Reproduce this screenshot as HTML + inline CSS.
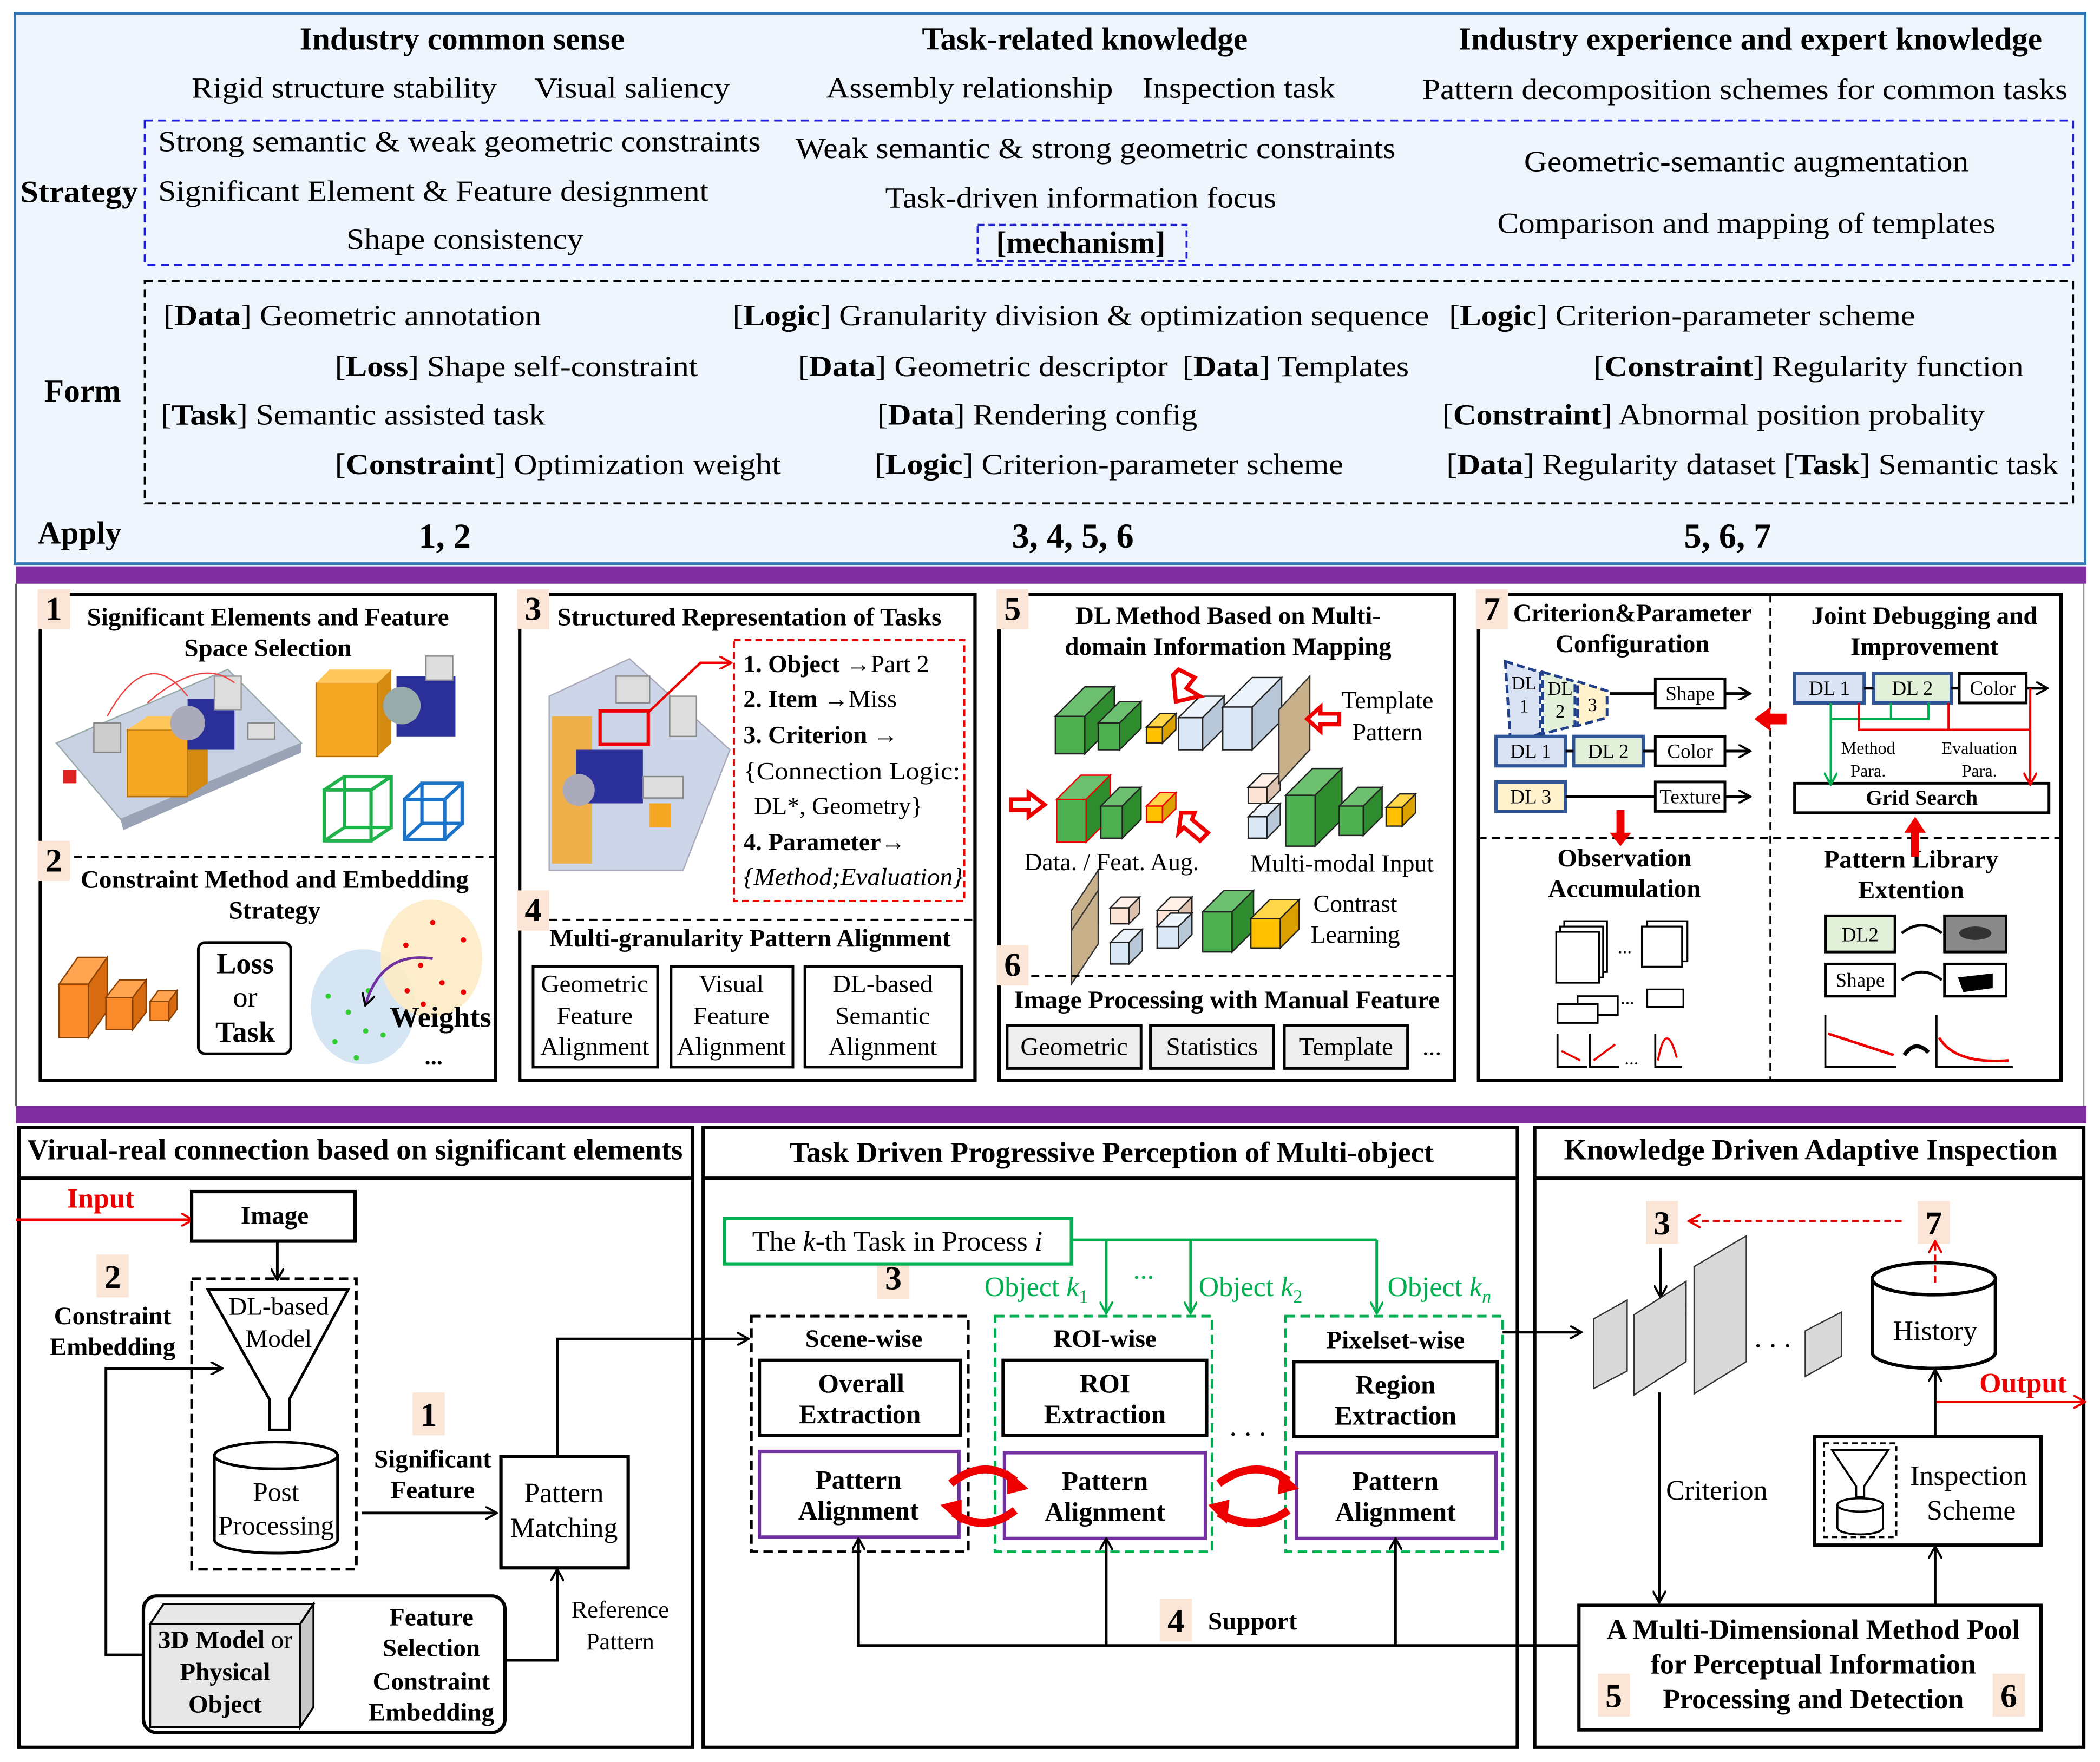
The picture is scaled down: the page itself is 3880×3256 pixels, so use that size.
<!DOCTYPE html>
<html><head><meta charset="utf-8"><style>
html,body{margin:0;padding:0;background:#fff}
svg{display:block}
text{font-family:"Liberation Serif",serif;fill:#000}
.b{font-weight:bold}
.m{text-anchor:middle}
</style></head><body>
<svg xmlns="http://www.w3.org/2000/svg" width="3880" height="3256" viewBox="0 0 1568 1316">
<defs>
<marker id="ak" markerWidth="10" markerHeight="10" refX="8" refY="5" orient="auto" markerUnits="userSpaceOnUse"><path d="M0,0 L9,5 L0,10" fill="none" stroke="#000" stroke-width="1.6"/></marker>
<marker id="ar" markerWidth="10" markerHeight="10" refX="8" refY="5" orient="auto" markerUnits="userSpaceOnUse"><path d="M0,0 L9,5 L0,10" fill="none" stroke="#e00" stroke-width="1.6"/></marker>
<marker id="ag" markerWidth="10" markerHeight="10" refX="8" refY="5" orient="auto" markerUnits="userSpaceOnUse"><path d="M0,0 L9,5 L0,10" fill="none" stroke="#00b050" stroke-width="1.6"/></marker>
</defs>
<rect width="1568" height="1316" fill="#fff"/>
<!-- TOP PANEL -->
<rect x="11" y="10" width="1546" height="411" fill="#eef5fc" stroke="#2e75b6" stroke-width="2"/>
<g font-size="22">
<text class="b m" x="345" y="37" font-size="24">Industry common sense</text>
<text class="b m" x="810" y="37" font-size="24">Task-related knowledge</text>
<text class="b m" x="1307" y="37" font-size="24">Industry experience and expert knowledge</text>
<text class="m" x="257" y="73" textLength="228" lengthAdjust="spacingAndGlyphs">Rigid structure stability</text>
<text class="m" x="472" y="73" textLength="146" lengthAdjust="spacingAndGlyphs">Visual saliency</text>
<text class="m" x="724" y="73" textLength="214" lengthAdjust="spacingAndGlyphs">Assembly relationship</text>
<text class="m" x="925" y="73" textLength="144" lengthAdjust="spacingAndGlyphs">Inspection task</text>
<text class="m" x="1303" y="74" textLength="482" lengthAdjust="spacingAndGlyphs">Pattern decomposition schemes for common tasks</text>
</g>
<rect x="108" y="90" width="1440" height="108" fill="none" stroke="#1f1fe0" stroke-width="1.5" stroke-dasharray="6,4"/>
<text class="b" x="15" y="151" font-size="23" textLength="88" lengthAdjust="spacingAndGlyphs">Strategy</text>
<g font-size="22">
<text x="118" y="113" textLength="450" lengthAdjust="spacingAndGlyphs">Strong semantic &amp; weak geometric constraints</text>
<text x="118" y="150" textLength="411" lengthAdjust="spacingAndGlyphs">Significant Element &amp; Feature designment</text>
<text class="m" x="347" y="186" textLength="177" lengthAdjust="spacingAndGlyphs">Shape consistency</text>
<text class="m" x="818" y="118" textLength="448" lengthAdjust="spacingAndGlyphs">Weak semantic &amp; strong geometric constraints</text>
<text class="m" x="807" y="155" textLength="292" lengthAdjust="spacingAndGlyphs">Task-driven information focus</text>
<text class="m b" x="807" y="189" font-size="23">[mechanism]</text>
<text class="m" x="1304" y="128" textLength="332" lengthAdjust="spacingAndGlyphs">Geometric-semantic augmentation</text>
<text class="m" x="1304" y="174" textLength="372" lengthAdjust="spacingAndGlyphs">Comparison and mapping of templates</text>
</g>
<rect x="730" y="168" width="156" height="27" fill="none" stroke="#1f1fe0" stroke-width="1.5" stroke-dasharray="5,3"/>
<rect x="108" y="210" width="1440" height="166" fill="none" stroke="#000" stroke-width="1.5" stroke-dasharray="6,4"/>
<text class="b" x="33" y="300" font-size="24">Form</text>
<g font-size="22">
<text x="122" y="243" textLength="282" lengthAdjust="spacingAndGlyphs">[<tspan class="b">Data</tspan>] Geometric annotation</text>
<text x="547" y="243" textLength="520" lengthAdjust="spacingAndGlyphs">[<tspan class="b">Logic</tspan>] Granularity division &amp; optimization sequence</text>
<text x="1082" y="243" textLength="348" lengthAdjust="spacingAndGlyphs">[<tspan class="b">Logic</tspan>] Criterion-parameter scheme</text>
<text x="250" y="281" textLength="271" lengthAdjust="spacingAndGlyphs">[<tspan class="b">Loss</tspan>] Shape self-constraint</text>
<text x="596" y="281" textLength="276" lengthAdjust="spacingAndGlyphs">[<tspan class="b">Data</tspan>] Geometric descriptor</text>
<text x="883" y="281" textLength="169" lengthAdjust="spacingAndGlyphs">[<tspan class="b">Data</tspan>] Templates</text>
<text x="1190" y="281" textLength="321" lengthAdjust="spacingAndGlyphs">[<tspan class="b">Constraint</tspan>] Regularity function</text>
<text x="120" y="317" textLength="287" lengthAdjust="spacingAndGlyphs">[<tspan class="b">Task</tspan>] Semantic assisted task</text>
<text x="655" y="317" textLength="239" lengthAdjust="spacingAndGlyphs">[<tspan class="b">Data</tspan>] Rendering config</text>
<text x="1077" y="317" textLength="405" lengthAdjust="spacingAndGlyphs">[<tspan class="b">Constraint</tspan>] Abnormal position probality</text>
<text x="250" y="354" textLength="333" lengthAdjust="spacingAndGlyphs">[<tspan class="b">Constraint</tspan>] Optimization weight</text>
<text x="653" y="354" textLength="350" lengthAdjust="spacingAndGlyphs">[<tspan class="b">Logic</tspan>] Criterion-parameter scheme</text>
<text x="1080" y="354" textLength="457" lengthAdjust="spacingAndGlyphs">[<tspan class="b">Data</tspan>] Regularity dataset [<tspan class="b">Task</tspan>] Semantic task</text>
</g>
<g font-size="26" class="b">
<text class="b" x="28" y="406" font-size="24">Apply</text>
<text class="b m" x="332" y="409">1, 2</text>
<text class="b m" x="801" y="409">3, 4, 5, 6</text>
<text class="b m" x="1290" y="409">5, 6, 7</text>
</g>
<!-- purple bands -->
<rect x="12" y="423" width="1546" height="13" fill="#7f2ea0"/>
<rect x="12" y="826" width="1546" height="13" fill="#7f2ea0"/>
<line x1="12" y1="436" x2="12" y2="826" stroke="#555" stroke-width="1.5"/>
<line x1="1556" y1="436" x2="1556" y2="826" stroke="#999" stroke-width="1"/>

<!-- MIDDLE PANEL -->
<g fill="none" stroke="#000" stroke-width="2.5">
<rect x="30" y="444" width="340" height="363"/>
<rect x="388" y="444" width="340" height="363"/>
<rect x="746" y="444" width="340" height="363"/>
<rect x="1104" y="444" width="435" height="363"/>
</g>
<g fill="#fbe5d6">
<rect x="28" y="440" width="24" height="30"/><rect x="28" y="628" width="24" height="30"/>
<rect x="386" y="440" width="24" height="30"/><rect x="386" y="665" width="24" height="30"/>
<rect x="744" y="440" width="24" height="30"/><rect x="744" y="706" width="24" height="30"/>
<rect x="1102" y="440" width="24" height="30"/>
</g>
<g font-size="25" class="b">
<text class="b m" x="40" y="463">1</text><text class="b m" x="40" y="651">2</text>
<text class="b m" x="398" y="463">3</text><text class="b m" x="398" y="688">4</text>
<text class="b m" x="756" y="463">5</text><text class="b m" x="756" y="729">6</text>
<text class="b m" x="1114" y="463">7</text>
</g>
<!-- box1 -->
<g font-size="19">
<text class="b m" x="200" y="467">Significant Elements and Feature</text>
<text class="b m" x="200" y="490">Space Selection</text>
<text class="b m" x="205" y="663">Constraint Method and Embedding</text>
<text class="b m" x="205" y="686">Strategy</text>
</g>
<line x1="55" y1="640" x2="370" y2="640" stroke="#000" stroke-width="1.5" stroke-dasharray="6,4"/>
<!-- machine image 1 -->
<polygon points="42,555 170,500 225,555 90,612" fill="#c9d2e3" stroke="#9aa" />
<polygon points="90,612 225,555 225,562 92,620" fill="#9aa3b5"/>
<rect x="95" y="545" width="45" height="50" fill="#f5a623" stroke="#b07010"/>
<polygon points="95,545 110,535 155,535 140,545" fill="#ffc65a"/>
<polygon points="140,545 155,535 155,585 140,595" fill="#d48a10"/>
<rect x="140" y="522" width="35" height="38" fill="#2b2f9a"/>
<circle cx="140" cy="540" r="13" fill="#aab"/>
<rect x="160" y="505" width="20" height="25" fill="#ddd" stroke="#999"/>
<rect x="70" y="540" width="20" height="22" fill="#ccc" stroke="#888"/>
<rect x="185" y="540" width="20" height="12" fill="#ddd" stroke="#888"/>
<rect x="47" y="575" width="10" height="10" fill="#d22"/>
<path d="M80,535 Q110,480 140,520 M110,525 Q150,490 175,510" fill="none" stroke="#e44" stroke-width="1"/>
<rect x="236" y="510" width="46" height="55" fill="#f5a623" stroke="#b07010"/>
<polygon points="236,510 246,500 292,500 282,510" fill="#ffc65a"/>
<polygon points="282,510 292,500 292,555 282,565" fill="#d48a10"/>
<rect x="296" y="505" width="44" height="45" fill="#2b2f9a"/>
<circle cx="300" cy="527" r="14" fill="#9aa"/>
<rect x="318" y="490" width="20" height="18" fill="#ddd" stroke="#888"/>
<g fill="none" stroke="#21b34b" stroke-width="2.5"><rect x="242" y="590" width="35" height="38"/><rect x="257" y="580" width="35" height="38"/><line x1="242" y1="590" x2="257" y2="580"/><line x1="277" y1="590" x2="292" y2="580"/><line x1="242" y1="628" x2="257" y2="618"/><line x1="277" y1="628" x2="292" y2="618"/></g>
<g fill="none" stroke="#1a73c8" stroke-width="2.5"><rect x="302" y="597" width="30" height="30"/><rect x="315" y="585" width="30" height="30"/><line x1="302" y1="597" x2="315" y2="585"/><line x1="332" y1="597" x2="345" y2="585"/><line x1="302" y1="627" x2="315" y2="615"/><line x1="332" y1="627" x2="345" y2="615"/></g>
<!-- orange blocks -->
<g stroke="#8a4000" stroke-width="1">
<rect x="44" y="735" width="22" height="40" fill="#fa8a2a"/><polygon points="44,735 58,715 80,715 66,735" fill="#ffa552"/><polygon points="66,735 80,715 80,755 66,775" fill="#d86a10"/>
<rect x="79" y="745" width="20" height="24" fill="#fa8a2a"/><polygon points="79,745 89,732 109,732 99,745" fill="#ffa552"/><polygon points="99,745 109,732 109,756 99,769" fill="#d86a10"/>
<rect x="112" y="748" width="14" height="14" fill="#fa8a2a"/><polygon points="112,748 118,740 132,740 126,748" fill="#ffa552"/><polygon points="126,748 132,740 132,754 126,762" fill="#d86a10"/>
</g>
<rect x="148" y="704" width="69" height="83" rx="5" fill="#fff" stroke="#000" stroke-width="2"/>
<g font-size="22"><text class="b m" x="183" y="727">Loss</text><text class="m" x="183" y="752">or</text><text class="b m" x="183" y="778">Task</text></g>
<ellipse cx="271" cy="752" rx="39" ry="43" fill="#cfe0f1" opacity="0.85"/>
<ellipse cx="322" cy="716" rx="38" ry="44" fill="#fdebc4" opacity="0.9"/>
<g fill="#e00"><circle cx="323" cy="689" r="2"/><circle cx="303" cy="706" r="2"/><circle cx="346" cy="702" r="2"/><circle cx="314" cy="721" r="2"/><circle cx="330" cy="734" r="2"/><circle cx="304" cy="740" r="2"/><circle cx="346" cy="741" r="2"/><circle cx="316" cy="750" r="2"/></g>
<g fill="#3c3"><circle cx="245" cy="744" r="2"/><circle cx="260" cy="756" r="2"/><circle cx="275" cy="740" r="2"/><circle cx="273" cy="770" r="2"/><circle cx="250" cy="778" r="2"/><circle cx="286" cy="773" r="2"/><circle cx="266" cy="790" r="2"/></g>
<path d="M323,716 Q285,710 273,750" fill="none" stroke="#7030a0" stroke-width="2" marker-end="url(#ak)"/>
<text class="b" x="291" y="767" font-size="22">Weights</text>
<text class="b" x="317" y="795" font-size="18">...</text>
<!-- box3 -->
<text class="b" x="416" y="467" font-size="19">Structured Representation of Tasks</text>
<polygon points="410,520 470,492 545,560 510,650 410,650" fill="#ccd6e8" stroke="#aab"/>
<rect x="412" y="535" width="30" height="110" fill="#f5a623" opacity="0.8"/>
<rect x="430" y="560" width="50" height="40" fill="#2b2f9a"/>
<circle cx="432" cy="590" r="12" fill="#aab"/>
<rect x="480" y="580" width="30" height="16" fill="#ddd" stroke="#888"/>
<rect x="485" y="600" width="16" height="18" fill="#f5a623"/>
<rect x="460" y="505" width="25" height="20" fill="#ddd" stroke="#888"/>
<rect x="500" y="520" width="20" height="30" fill="#ddd" stroke="#888"/>
<rect x="448" y="531" width="36" height="25" fill="none" stroke="#e00" stroke-width="2.5"/>
<polyline points="484,532 523,495 545,495" fill="none" stroke="#e00" stroke-width="1.8" marker-end="url(#ar)"/>
<rect x="548" y="478" width="172" height="195" fill="none" stroke="#e00" stroke-width="1.5" stroke-dasharray="5,3"/>
<g font-size="18.5">
<text x="555" y="502"><tspan class="b">1. Object</tspan>  →Part 2</text>
<text x="555" y="528"><tspan class="b">2. Item</tspan>      →Miss</text>
<text x="555" y="555"><tspan class="b">3. Criterion</tspan> →</text>
<text x="555" y="582" textLength="162" lengthAdjust="spacingAndGlyphs">{Connection Logic:</text>
<text x="563" y="608">DL*, Geometry}</text>
<text x="555" y="635"><tspan class="b">4. Parameter</tspan>→</text>
<text x="555" y="661" font-style="italic" textLength="164" lengthAdjust="spacingAndGlyphs">{Method;Evaluation}</text>
</g>
<line x1="410" y1="687" x2="728" y2="687" stroke="#000" stroke-width="1.5" stroke-dasharray="6,4"/>
<text class="b m" x="560" y="707" font-size="19">Multi-granularity Pattern Alignment</text>
<g fill="none" stroke="#000" stroke-width="2"><rect x="398" y="722" width="93" height="75"/><rect x="501" y="722" width="91" height="75"/><rect x="601" y="722" width="117" height="75"/></g>
<g font-size="19" class="m">
<text class="m" x="444" y="741">Geometric</text><text class="m" x="444" y="765">Feature</text><text class="m" x="444" y="788">Alignment</text>
<text class="m" x="546" y="741">Visual</text><text class="m" x="546" y="765">Feature</text><text class="m" x="546" y="788">Alignment</text>
<text class="m" x="659" y="741">DL-based</text><text class="m" x="659" y="765">Semantic</text><text class="m" x="659" y="788">Alignment</text>
</g>
<!-- box5 -->
<text class="b m" x="917" y="466" font-size="19">DL Method Based on Multi-</text>
<text class="b m" x="917" y="489" font-size="19">domain Information Mapping</text>
<g id="cubes" stroke="#222" stroke-width="1"></g>
<polygon points="955,530 978,505 978,560 955,585" fill="#c8b08a" stroke="#333"/>
<polygon points="800,680 820,650 820,690 800,720" fill="#c8b08a" stroke="#333"/>
<polygon points="800,725 820,695 820,735 800,765" fill="#c8b08a" stroke="#333" transform="translate(0,-30)"/>
<g fill="#fff" stroke="#e00" stroke-width="3">
<polygon points="880,500 892,506 886,514 896,520 878,524 876,504"/>
<polygon points="1000,533 1000,541 986,541 986,546 976,537 986,528 986,533"/>
<polygon points="755,597 768,597 768,592 780,601 768,610 768,605 755,605"/>
<polygon points="882,607 892,607 890,612 902,622 896,628 884,618 880,622"/>
</g>
<g font-size="18.5">
<text class="m" x="1036" y="529">Template</text><text class="m" x="1036" y="553">Pattern</text>
<text class="m" x="830" y="650">Data. / Feat. Aug.</text>
<text class="m" x="1002" y="651">Multi-modal Input</text>
<text class="m" x="1012" y="681">Contrast</text><text class="m" x="1012" y="704">Learning</text>
</g>
<line x1="770" y1="729" x2="1086" y2="729" stroke="#000" stroke-width="1.5" stroke-dasharray="6,4"/>
<text class="b m" x="916" y="753" font-size="19">Image Processing with Manual Feature</text>
<g fill="#eee" stroke="#000" stroke-width="2"><rect x="752" y="766" width="100" height="32"/><rect x="859" y="766" width="92" height="32"/><rect x="959" y="766" width="92" height="32"/></g>
<g font-size="19"><text class="m" x="802" y="788">Geometric</text><text class="m" x="905" y="788">Statistics</text><text class="m" x="1005" y="788">Template</text><text x="1062" y="788">...</text></g>
<!-- box7 -->
<line x1="1322" y1="444" x2="1322" y2="807" stroke="#000" stroke-width="1.5" stroke-dasharray="6,4"/>
<line x1="1104" y1="626" x2="1539" y2="626" stroke="#000" stroke-width="1.5" stroke-dasharray="6,4"/>
<g font-size="19">
<text class="b m" x="1219" y="464">Criterion&amp;Parameter</text><text class="b m" x="1219" y="487">Configuration</text>
<text class="b m" x="1437" y="466">Joint Debugging and</text><text class="b m" x="1437" y="489">Improvement</text>
<text class="b m" x="1213" y="647">Observation</text><text class="b m" x="1213" y="670">Accumulation</text>
<text class="b m" x="1427" y="648">Pattern Library</text><text class="b m" x="1427" y="671">Extention</text>
</g>
<g stroke="#1f3f8a" stroke-width="2" stroke-dasharray="6,3">
<polygon points="1124,494 1150,502 1150,548 1128,556" fill="#dae3f3"/>
<polygon points="1152,502 1176,509 1176,542 1152,548" fill="#e2f0d9"/>
<polygon points="1178,509 1200,516 1200,536 1178,542" fill="#fff2cc"/>
</g>
<g font-size="14"><text class="m" x="1138" y="515">DL</text><text class="m" x="1138" y="532">1</text><text class="m" x="1165" y="519">DL</text><text class="m" x="1165" y="536">2</text><text class="m" x="1189" y="531">3</text></g>
<line x1="1202" y1="518" x2="1236" y2="518" stroke="#000" stroke-width="2"/>
<g fill="#fff" stroke="#000" stroke-width="2">
<rect x="1236" y="507" width="52" height="22"/><rect x="1236" y="550" width="52" height="22"/><rect x="1236" y="584" width="52" height="22"/>
<rect x="1463" y="503" width="50" height="22"/><rect x="1340" y="585" width="190" height="22"/>
<rect x="1363" y="720" width="52" height="24"/>
</g>
<g stroke="#2f5597" stroke-width="2.5">
<rect x="1117" y="550" width="52" height="22" fill="#dae3f3"/><rect x="1175" y="550" width="52" height="22" fill="#e2f0d9"/>
<rect x="1117" y="584" width="52" height="22" fill="#fff2cc"/>
<rect x="1340" y="503" width="52" height="22" fill="#dae3f3"/><rect x="1399" y="503" width="58" height="22" fill="#e2f0d9"/>
</g>
<rect x="1363" y="684" width="52" height="27" fill="#e2f0d9" stroke="#000" stroke-width="2"/>
<g stroke="#000" stroke-width="2" fill="none">
<line x1="1169" y1="561" x2="1175" y2="561"/><line x1="1227" y1="561" x2="1236" y2="561"/>
<line x1="1169" y1="595" x2="1236" y2="595"/><line x1="1392" y1="514" x2="1399" y2="514"/><line x1="1457" y1="514" x2="1463" y2="514"/>
<line x1="1288" y1="518" x2="1306" y2="518" marker-end="url(#ak)"/>
<line x1="1288" y1="561" x2="1306" y2="561" marker-end="url(#ak)"/>
<line x1="1288" y1="595" x2="1306" y2="595" marker-end="url(#ak)"/>
<line x1="1513" y1="514" x2="1528" y2="514" marker-end="url(#ak)"/>
</g>
<g font-size="15">
<text class="m" x="1262" y="523">Shape</text><text class="m" x="1262" y="566">Color</text><text class="m" x="1262" y="600">Texture</text>
<text class="m" x="1143" y="566">DL 1</text><text class="m" x="1201" y="566">DL 2</text><text class="m" x="1143" y="600">DL 3</text>
<text class="m" x="1366" y="519">DL 1</text><text class="m" x="1428" y="519">DL 2</text><text class="m" x="1488" y="519">Color</text>
<text class="m" x="1389" y="703">DL2</text><text class="m" x="1389" y="737">Shape</text>
</g>
<text class="b m" x="1435" y="601" font-size="16">Grid Search</text>
<g font-size="13"><text class="m" x="1395" y="563">Method</text><text class="m" x="1395" y="580">Para.</text><text class="m" x="1478" y="563">Evaluation</text><text class="m" x="1478" y="580">Para.</text></g>
<g fill="none" stroke-width="1.6">
<path d="M1367,525 V585" stroke="#00b050" marker-end="url(#ag)"/>
<path d="M1367,537 H1440 V525 M1412,537 V525" stroke="#00b050"/>
<path d="M1388,525 V545 H1516 M1455,545 V525 M1516,514 V585" stroke="#e00"/>
<path d="M1516,545 V585" stroke="#e00" marker-end="url(#ar)"/>
</g>
<g fill="#e00">
<polygon points="1334,533 1322,533 1322,528 1310,537 1322,546 1322,541 1334,541"/>
<polygon points="1207,605 1213,605 1213,622 1218,622 1210,632 1202,622 1207,622"/>
<polygon points="1427,640 1433,640 1433,622 1438,622 1430,610 1422,622 1427,622"/>
</g>
<rect x="1452" y="684" width="46" height="27" fill="#8a8a8a" stroke="#000" stroke-width="2"/>
<ellipse cx="1475" cy="697" rx="12" ry="5" fill="#333"/>
<rect x="1452" y="720" width="46" height="24" fill="#fff" stroke="#000" stroke-width="2"/>
<polygon points="1462,730 1488,727 1488,738 1466,741" fill="#000"/>
<path d="M1450,697 Q1435,685 1420,697 M1450,732 Q1435,720 1420,732" fill="none" stroke="#000" stroke-width="2"/>
<!-- observation icons -->
<g fill="#fff" stroke="#000" stroke-width="1.3">
<rect x="1168" y="688" width="32" height="38"/><rect x="1165" y="692" width="32" height="38"/><rect x="1162" y="696" width="32" height="38"/>
<rect x="1230" y="688" width="30" height="30"/><rect x="1226" y="692" width="30" height="30"/>
<rect x="1178" y="744" width="30" height="14"/><rect x="1163" y="750" width="30" height="14"/><rect x="1230" y="739" width="27" height="13"/>
</g>
<g font-size="14"><text x="1208" y="712">...</text><text x="1210" y="750">...</text><text x="1213" y="795">...</text></g>
<g fill="none" stroke="#000" stroke-width="1.5">
<path d="M1163,772 V797 H1185 M1187,772 V797 H1209 M1236,772 V797 H1256"/>
</g>
<g fill="none" stroke="#e00" stroke-width="1.5"><path d="M1166,785 L1180,792 M1190,792 L1206,780 M1238,792 Q1244,760 1252,790"/></g>
<g fill="none" stroke="#000" stroke-width="1.5"><path d="M1363,758 V797 H1416 M1446,758 V797 H1503"/></g>
<g fill="none" stroke="#e00" stroke-width="2"><path d="M1365,772 L1414,788 M1448,775 Q1460,795 1500,792"/></g>
<path d="M1422,788 Q1430,776 1440,786" fill="none" stroke="#000" stroke-width="3"/>

<!-- BOTTOM PANEL -->
<g fill="none" stroke="#000" stroke-width="2.5">
<rect x="14" y="842" width="503" height="463"/><line x1="14" y1="880" x2="517" y2="880"/>
<rect x="525" y="842" width="608" height="463"/><line x1="525" y1="880" x2="1133" y2="880"/>
<rect x="1146" y="842" width="410" height="463"/><line x1="1146" y1="880" x2="1556" y2="880"/>
</g>
<g font-size="22">
<text class="b m" x="265" y="866">Virual-real connection based on significant elements</text>
<text class="b m" x="830" y="868">Task Driven Progressive Perception of Multi-object</text>
<text class="b m" x="1352" y="866">Knowledge Driven Adaptive Inspection</text>
</g>
<g fill="#fbe5d6">
<rect x="72" y="937" width="24" height="32"/><rect x="308" y="1040" width="24" height="32"/>
<rect x="244" y="1200" width="24" height="32"/><rect x="244" y="1254" width="24" height="32"/>
<rect x="655" y="938" width="24" height="32"/><rect x="866" y="1194" width="24" height="32"/>
<rect x="1229" y="897" width="24" height="32"/><rect x="1432" y="897" width="24" height="32"/>
<rect x="1193" y="1250" width="24" height="32"/><rect x="1488" y="1250" width="24" height="32"/>
</g>
<g font-size="25" class="b">
<text class="b m" x="84" y="962">2</text><text class="b m" x="320" y="1065">1</text>
<text class="b m" x="256" y="1225">1</text><text class="b m" x="256" y="1279">2</text>
<text class="b m" x="667" y="963">3</text><text class="b m" x="878" y="1219">4</text>
<text class="b m" x="1241" y="922">3</text><text class="b m" x="1444" y="922">7</text>
<text class="b m" x="1205" y="1275">5</text><text class="b m" x="1500" y="1275">6</text>
</g>
<!-- box1 bottom -->
<text class="b" x="50" y="902" font-size="21" style="fill:#e00">Input</text>
<line x1="12" y1="911" x2="143" y2="911" stroke="#e00" stroke-width="2" marker-end="url(#ar)"/>
<rect x="143" y="890" width="122" height="37" fill="#fff" stroke="#000" stroke-width="2.5"/>
<text class="b m" x="205" y="914" font-size="19">Image</text>
<line x1="207" y1="927" x2="207" y2="955" stroke="#000" stroke-width="2" marker-end="url(#ak)"/>
<rect x="143" y="955" width="123" height="217" fill="none" stroke="#000" stroke-width="2" stroke-dasharray="7,4"/>
<polygon points="155,963 260,963 216,1045 216,1068 201,1068 201,1045" fill="#fff" stroke="#000" stroke-width="2"/>
<g font-size="19"><text class="m" x="208" y="982">DL-based</text><text class="m" x="208" y="1006">Model</text></g>
<path d="M160,1087 V1150 A46,10 0 0 0 252,1150 V1087" fill="#fff" stroke="#000" stroke-width="2"/>
<ellipse cx="206" cy="1087" rx="46" ry="10" fill="#fff" stroke="#000" stroke-width="2"/>
<g font-size="20"><text class="m" x="206" y="1121">Post</text><text class="m" x="206" y="1146">Processing</text></g>
<g font-size="19"><text class="b m" x="84" y="989">Constraint</text><text class="b m" x="84" y="1012">Embedding</text>
<text class="b m" x="323" y="1096">Significant</text><text class="b m" x="323" y="1119">Feature</text></g>
<g fill="none" stroke="#000" stroke-width="2">
<polyline points="110,1236 79,1236 79,1022 165,1022" marker-end="url(#ak)"/>
<line x1="270" y1="1130" x2="370" y2="1130" marker-end="url(#ak)"/>
<polyline points="416,1088 416,1000 558,1000" marker-end="url(#ak)"/>
<polyline points="377,1240 416,1240 416,1173" marker-end="url(#ak)"/>
</g>
<rect x="374" y="1088" width="95" height="83" fill="#fff" stroke="#000" stroke-width="2.5"/>
<g font-size="21"><text class="m" x="421" y="1122">Pattern</text><text class="m" x="421" y="1148">Matching</text></g>
<rect x="107" y="1192" width="270" height="102" rx="10" fill="#fff" stroke="#000" stroke-width="2.5"/>
<polygon points="112,1213 122,1198 234,1198 224,1213" fill="#e8e8e8" stroke="#000" stroke-width="1.5"/>
<polygon points="224,1213 234,1198 234,1275 224,1290" fill="#c8c8c8" stroke="#000" stroke-width="1.5"/>
<rect x="112" y="1213" width="112" height="77" fill="#e8e8e8" stroke="#000" stroke-width="1.5"/>
<g font-size="19"><text class="m" x="168" y="1231"><tspan class="b">3D Model</tspan> or</text><text class="b m" x="168" y="1255">Physical</text><text class="b m" x="168" y="1279">Object</text>
<text class="b m" x="322" y="1214">Feature</text><text class="b m" x="322" y="1237">Selection</text><text class="b m" x="322" y="1262">Constraint</text><text class="b m" x="322" y="1285">Embedding</text></g>
<g font-size="18"><text class="m" x="463" y="1208">Reference</text><text class="m" x="463" y="1232">Pattern</text></g>
<!-- box2 bottom -->
<rect x="541" y="910" width="259" height="34" fill="#fff" stroke="#00b050" stroke-width="2.5"/>
<text class="m" x="670" y="934" font-size="21">The <tspan font-style="italic">k</tspan>-th Task in Process <tspan font-style="italic">i</tspan></text>
<g fill="none" stroke="#00b050" stroke-width="2">
<line x1="800" y1="926" x2="1028" y2="926"/>
<line x1="826" y1="926" x2="826" y2="980" marker-end="url(#ag)"/>
<line x1="889" y1="926" x2="889" y2="980" marker-end="url(#ag)"/>
<line x1="1028" y1="926" x2="1028" y2="980" marker-end="url(#ag)"/>
</g>
<g font-size="21">
<text x="735" y="968" style="fill:#00b050">Object <tspan font-style="italic">k</tspan><tspan font-size="14" dy="5">1</tspan></text>
<text x="846" y="955" style="fill:#00b050">...</text>
<text x="895" y="968" style="fill:#00b050">Object <tspan font-style="italic">k</tspan><tspan font-size="14" dy="5">2</tspan></text>
<text x="1036" y="968" style="fill:#00b050">Object <tspan font-style="italic">k</tspan><tspan font-size="14" dy="5" font-style="italic">n</tspan></text>
</g>
<rect x="561" y="983" width="162" height="176" fill="none" stroke="#000" stroke-width="2" stroke-dasharray="7,4"/>
<rect x="743" y="983" width="162" height="176" fill="none" stroke="#00b050" stroke-width="2" stroke-dasharray="7,4"/>
<rect x="960" y="983" width="162" height="176" fill="none" stroke="#00b050" stroke-width="2" stroke-dasharray="7,4"/>
<g font-size="19"><text class="b m" x="645" y="1006">Scene-wise</text><text class="b m" x="825" y="1006">ROI-wise</text><text class="b m" x="1042" y="1007">Pixelset-wise</text></g>
<g fill="#fff" stroke="#000" stroke-width="2.5"><rect x="567" y="1016" width="150" height="56"/><rect x="749" y="1016" width="152" height="56"/><rect x="966" y="1017" width="152" height="56"/></g>
<g fill="#fff" stroke="#7030a0" stroke-width="2.5"><rect x="567" y="1084" width="149" height="64"/><rect x="750" y="1085" width="150" height="64"/><rect x="968" y="1085" width="149" height="64"/></g>
<g font-size="20">
<text class="b m" x="643" y="1040">Overall</text><text class="b m" x="642" y="1063">Extraction</text>
<text class="b m" x="825" y="1040">ROI</text><text class="b m" x="825" y="1063">Extraction</text>
<text class="b m" x="1042" y="1041">Region</text><text class="b m" x="1042" y="1064">Extraction</text>
<text class="b m" x="641" y="1112">Pattern</text><text class="b m" x="641" y="1135">Alignment</text>
<text class="b m" x="825" y="1113">Pattern</text><text class="b m" x="825" y="1136">Alignment</text>
<text class="b m" x="1042" y="1113">Pattern</text><text class="b m" x="1042" y="1136">Alignment</text>
</g>
<text x="918" y="1072" font-size="22">. . .</text>
<g fill="none" stroke="#e00" stroke-width="6">
<path d="M710,1108 Q735,1088 758,1106"/><path d="M758,1128 Q735,1146 712,1130"/>
<path d="M910,1108 Q937,1088 962,1106"/><path d="M962,1128 Q937,1146 910,1130"/>
</g>
<g fill="#e00">
<polygon points="752,1098 768,1112 752,1116"/><polygon points="718,1138 702,1124 718,1120"/>
<polygon points="956,1098 970,1112 954,1116"/><polygon points="916,1138 902,1124 918,1120"/>
</g>
<line x1="1122" y1="995" x2="1180" y2="995" stroke="#000" stroke-width="2" marker-end="url(#ak)"/>
<g fill="none" stroke="#000" stroke-width="2">
<polyline points="1178,1229 641,1229 641,1150" marker-end="url(#ak)"/>
<line x1="826" y1="1229" x2="826" y2="1150" marker-end="url(#ak)"/>
<line x1="1042" y1="1229" x2="1042" y2="1150" marker-end="url(#ak)"/>
</g>
<text class="b" x="902" y="1217" font-size="19">Support</text>
<!-- box3 bottom -->
<line x1="1420" y1="912" x2="1262" y2="912" stroke="#e00" stroke-width="1.6" stroke-dasharray="5,3" marker-end="url(#ar)"/>
<line x1="1240" y1="932" x2="1240" y2="968" stroke="#000" stroke-width="2" marker-end="url(#ak)"/>
<g fill="#d9d9d9" stroke="#333" stroke-width="1">
<polygon points="1190,985 1215,971 1215,1024 1190,1037"/>
<polygon points="1220,982 1259,957 1259,1017 1220,1042"/>
<polygon points="1265,946 1304,923 1304,1017 1265,1041"/>
<polygon points="1348,994 1375,980 1375,1013 1348,1028"/>
</g>
<text x="1310" y="1006" font-size="22">. . .</text>
<path d="M1398,955 V1010 A46,12 0 0 0 1490,1010 V955" fill="#fff" stroke="#000" stroke-width="2.5"/>
<ellipse cx="1444" cy="955" rx="46" ry="12" fill="#fff" stroke="#000" stroke-width="2.5"/>
<text class="m" x="1445" y="1001" font-size="21">History</text>
<line x1="1445" y1="958" x2="1445" y2="928" stroke="#e00" stroke-width="1.6" stroke-dasharray="5,3" marker-end="url(#ar)"/>
<text class="b" x="1478" y="1040" font-size="21" style="fill:#e00">Output</text>
<line x1="1445" y1="1047" x2="1556" y2="1047" stroke="#e00" stroke-width="2" marker-end="url(#ar)"/>
<line x1="1445" y1="1073" x2="1445" y2="1024" stroke="#000" stroke-width="2" marker-end="url(#ak)"/>
<rect x="1355" y="1073" width="169" height="81" fill="#fff" stroke="#000" stroke-width="2.5"/>
<rect x="1362" y="1078" width="54" height="70" fill="none" stroke="#000" stroke-width="1.5" stroke-dasharray="4,3"/>
<polygon points="1368,1083 1410,1083 1392,1110 1392,1118 1386,1118 1386,1110" fill="#fff" stroke="#000" stroke-width="1.5"/>
<path d="M1372,1124 V1141 A17,5 0 0 0 1406,1141 V1124" fill="#fff" stroke="#000" stroke-width="1.5"/>
<ellipse cx="1389" cy="1124" rx="17" ry="5" fill="#fff" stroke="#000" stroke-width="1.5"/>
<g font-size="21"><text class="m" x="1470" y="1109">Inspection</text><text class="m" x="1472" y="1135">Scheme</text></g>
<line x1="1239" y1="1040" x2="1239" y2="1196" stroke="#000" stroke-width="2" marker-end="url(#ak)"/>
<text x="1244" y="1120" font-size="21">Criterion</text>
<line x1="1445" y1="1199" x2="1445" y2="1156" stroke="#000" stroke-width="2" marker-end="url(#ak)"/>
<rect x="1179" y="1199" width="345" height="93" fill="none" stroke="#000" stroke-width="2.5"/>
<g font-size="21"><text class="b m" x="1354" y="1224">A Multi-Dimensional Method Pool</text><text class="b m" x="1354" y="1250">for Perceptual Information</text><text class="b m" x="1354" y="1276">Processing and Detection</text></g>
</svg>
<script>
(function(){
var g=document.getElementById('cubes');var ns='http://www.w3.org/2000/svg';
var C={g:['#4caf50','#6cc06f','#2e8b2e'],y:['#ffc000','#ffd54a','#d9a000'],b:['#dbe8f5','#eef4fb','#b8c8d8'],p:['#fbe3d6','#fff0e8','#dcc0b0']};
function cub(x,y,w,h,d,c,s){var k=C[c];
 [[x+','+y+' '+(x+w)+','+y+' '+(x+w)+','+(y+h)+' '+x+','+(y+h),k[0]],
  [x+','+y+' '+(x+d)+','+(y-d)+' '+(x+w+d)+','+(y-d)+' '+(x+w)+','+y,k[1]],
  [(x+w)+','+y+' '+(x+w+d)+','+(y-d)+' '+(x+w+d)+','+(y+h-d)+' '+(x+w)+','+(y+h),k[2]]].forEach(function(p){
  var e=document.createElementNS(ns,'polygon');e.setAttribute('points',p[0]);e.setAttribute('fill',p[1]);if(s)e.setAttribute('stroke',s);g.appendChild(e);});}
cub(788,535,22,28,22,'g');cub(820,540,16,20,16,'g');cub(856,543,12,12,10,'y');cub(880,536,18,24,16,'b');cub(913,528,22,32,22,'b');
cub(789,597,22,32,18,'g','#e00');cub(822,602,16,24,14,'g');cub(856,602,12,12,10,'y','#e00');
cub(932,588,14,12,10,'p');cub(932,610,14,16,10,'b');cub(960,594,22,38,20,'g');cub(1000,602,18,22,14,'g');cub(1035,603,12,14,10,'y');
cub(829,678,14,12,8,'p');cub(829,704,14,16,10,'b');cub(864,680,16,12,10,'p');cub(864,692,16,16,10,'b');cub(898,681,22,30,16,'g');cub(934,686,22,22,14,'y');
})();
</script>
</body></html>
